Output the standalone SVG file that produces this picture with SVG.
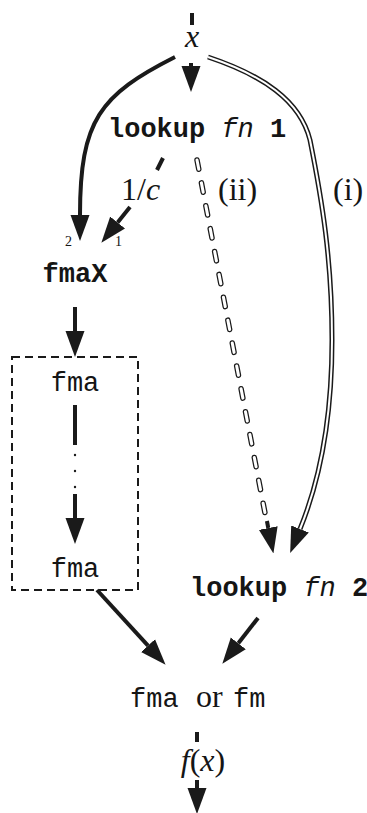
<svg xmlns="http://www.w3.org/2000/svg" width="367" height="813" viewBox="0 0 367 813">
<style>
.mono{font-family:"Liberation Mono","DejaVu Sans Mono",monospace;font-size:27px;fill:#151515}
.b{font-weight:bold}
.it{font-style:italic;font-weight:normal}
.math{font-family:"Liberation Serif","DejaVu Serif",serif;font-size:32px;fill:#151515}
.mi{font-style:italic}
.small{font-family:"Liberation Serif",serif;font-size:14px;fill:#151515}
.thick{fill:none;stroke:#1a1a1a;stroke-width:4}
.dblo{fill:none;stroke:#1a1a1a;stroke-width:5}
.dbli{fill:none;stroke:#fff;stroke-width:2}
.chaino{fill:none;stroke:#1a1a1a;stroke-width:5.5;stroke-linecap:round;stroke-dasharray:9.5 13.8}
.chaini{fill:none;stroke:#fff;stroke-width:3;stroke-linecap:round;stroke-dasharray:9.5 13.8}
.box{fill:none;stroke:#1a1a1a;stroke-width:2;stroke-dasharray:8 5}
</style>
<defs>
<marker id="ah" viewBox="0 -10 26 20" refX="0" refY="0" markerWidth="26" markerHeight="20" markerUnits="userSpaceOnUse" orient="auto">
<path d="M0,-9.5 L26,0 L0,9.5 z" fill="#1a1a1a"/>
</marker>
</defs>
<rect width="367" height="813" fill="#fff"/>
<g id="connectors">
<path class="thick" d="M192,13 L192,25"/>
<path class="thick" d="M191,63 L191,66" marker-end="url(#ah)"/>
<path class="thick" d="M175,57 C100,95 80,120 80,215" marker-end="url(#ah)"/>
<path class="thick" stroke-width="3.5" d="M163,158 L157,170"/>
<path class="thick" d="M130,207 L117.6,222.5" marker-end="url(#ah)"/>
<path class="thick" d="M75,307 L75,331" marker-end="url(#ah)"/>
<path class="thick" d="M75,405 L75,445"/>
<circle cx="75" cy="455" r="1.2" fill="#1a1a1a"/>
<circle cx="75" cy="471" r="1.2" fill="#1a1a1a"/>
<circle cx="75" cy="487" r="1.2" fill="#1a1a1a"/>
<path class="thick" d="M75,494 L75,518" marker-end="url(#ah)"/>
<path class="chaino" d="M197,160 L264.9,512.5"/>
<path class="chaini" d="M197,160 L264.9,512.5"/>
<path class="thick" stroke-width="1" d="M266.9,521 L268.3,528" marker-end="url(#ah)"/>
<path class="dblo" d="M208,57 C262,75 300,100 310,140 C322,200 332,260 332,340 C332,420 320,480 300,529" marker-end="url(#ah)"/>
<path class="dbli" d="M208,57 C262,75 300,100 310,140 C322,200 332,260 332,340 C332,420 320,480 300,529"/>
<path class="thick" d="M97,590 L148,645.6" marker-end="url(#ah)"/>
<path class="thick" d="M258,618 L238.3,643.3" marker-end="url(#ah)"/>
<path class="thick" d="M197,732 L197,742"/>
<path class="thick" d="M197,780 L197,788" marker-end="url(#ah)"/>
</g>
<g id="input">
<text class="math mi" x="192" y="47" text-anchor="middle">x</text>
</g>
<g id="lookup1">
<text class="mono b" x="108" y="137">lookup <tspan class="it">fn</tspan> 1</text>
</g>
<g id="labels">
<text class="math" x="121" y="200">1/<tspan class="mi">c</tspan></text>
<text class="math" x="218" y="200" font-size="30">(ii)</text>
<text class="math" x="333" y="200" font-size="30">(i)</text>
<text class="small" x="65" y="246">2</text>
<text class="small" x="115" y="246">1</text>
</g>
<g id="fmaX">
<text class="mono b" x="75" y="282" text-anchor="middle">fmaX</text>
</g>
<g id="fmaChain">
<rect class="box" x="12" y="357" width="126" height="233"/>
<text class="mono" x="75" y="391" text-anchor="middle">fma</text>
<text class="mono" x="75" y="577" text-anchor="middle">fma</text>
</g>
<g id="lookup2">
<text class="mono b" x="190" y="596" font-size="26">lookup <tspan class="it">fn</tspan> 2</text>
</g>
<g id="result">
<text class="mono" x="130" y="707">fma</text>
<text class="math" x="196" y="707" font-size="24">or</text>
<text class="mono" x="233" y="707">fm</text>
</g>
<g id="output">
<text class="math" x="203" y="771" text-anchor="middle" font-size="38"><tspan class="mi">f</tspan>(<tspan class="mi">x</tspan>)</text>
</g>
</svg>
